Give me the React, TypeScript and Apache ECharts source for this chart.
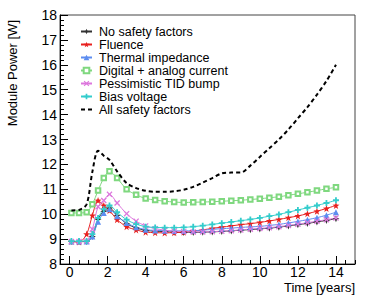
import React, { useEffect, useRef } from "react";
import * as echarts from "echarts";

const TIME = [0.1, 0.5, 0.9, 1.2, 1.5, 1.8, 2.1, 2.5, 3.0, 3.5, 4.0, 4.5, 5.0, 5.5, 6.0, 6.5, 7.0, 7.5, 8.0, 8.5, 9.0, 9.5, 10.0, 10.5, 11.0, 11.5, 12.0, 12.5, 13.0, 13.5, 14.0];

const NO_SF = [8.9, 8.9, 8.9, 9.1, 9.8, 10.12, 10.25, 9.95, 9.62, 9.45, 9.35, 9.32, 9.3, 9.28, 9.27, 9.27, 9.28, 9.29, 9.31, 9.33, 9.36, 9.38, 9.41, 9.44, 9.48, 9.53, 9.58, 9.63, 9.69, 9.75, 9.82];
const FLUENCE = [8.9, 8.88, 9.2, 9.95, 10.55, 10.35, 10.15, 9.78, 9.5, 9.37, 9.28, 9.26, 9.25, 9.26, 9.28, 9.32, 9.37, 9.43, 9.48, 9.53, 9.58, 9.62, 9.67, 9.73, 9.79, 9.86, 9.93, 10.02, 10.12, 10.23, 10.35];
const THERMAL = [8.9, 8.9, 8.9, 9.1, 9.7, 10.05, 10.2, 9.92, 9.65, 9.48, 9.38, 9.35, 9.34, 9.33, 9.33, 9.34, 9.36, 9.39, 9.42, 9.44, 9.47, 9.49, 9.51, 9.55, 9.59, 9.65, 9.71, 9.78, 9.86, 9.96, 10.08];
const DIGITAL = [10.05, 10.05, 10.08, 10.4, 10.95, 11.45, 11.72, 11.45, 11.0, 10.78, 10.63, 10.57, 10.52, 10.49, 10.47, 10.48, 10.49, 10.5, 10.52, 10.54, 10.56, 10.59, 10.62, 10.66, 10.7, 10.76, 10.82, 10.88, 10.95, 11.02, 11.08];
const TID = [8.9, 8.9, 8.92, 9.4, 10.3, 10.55, 10.8, 10.45, 10.02, 9.72, 9.53, 9.42, 9.36, 9.32, 9.3, 9.29, 9.29, 9.3, 9.32, 9.34, 9.37, 9.4, 9.43, 9.46, 9.5, 9.55, 9.6, 9.66, 9.72, 9.78, 9.85];
const BIAS = [8.92, 8.92, 8.92, 9.2, 9.85, 10.2, 10.35, 10.08, 9.78, 9.6, 9.5, 9.47, 9.46, 9.46, 9.47, 9.5, 9.54, 9.59, 9.64, 9.69, 9.74, 9.79, 9.85, 9.92, 9.99, 10.08, 10.17, 10.26, 10.35, 10.45, 10.56];
const ALL_SF = [10.15, 10.17, 10.4, 11.7, 12.55, 12.35, 12.18, 11.72, 11.25, 11.05, 10.94, 10.9, 10.9, 10.92, 10.98, 11.1, 11.27, 11.45, 11.64, 11.67, 11.67, 11.95, 12.3, 12.65, 13.0, 13.4, 13.85, 14.3, 14.8, 15.35, 16.0];

const SERIES_NAMES = ["No safety factors", "Fluence", "Thermal impedance", "Digital + analog current", "Pessimistic TID bump", "Bias voltage", "All safety factors"];
const X_TICKS = [0, 2, 4, 6, 8, 10, 12, 14];
const X_MINOR_TICKS = [-0.5, 0.5, 1, 1.5, 2.5, 3, 3.5, 4.5, 5, 5.5, 6.5, 7, 7.5, 8.5, 9, 9.5, 10.5, 11, 11.5, 12.5, 13, 13.5, 14.5, 15];

const STAR5 = "path://M0,-10 L2.35,-3.24 9.51,-3.09 3.8,1.24 5.88,8.09 0,4 -5.88,8.09 -3.8,1.24 -9.51,-3.09 -2.35,-3.24 Z";
const CROSS = "path://M-3,-10 H3 V-3 H10 V3 H3 V10 H-3 V3 H-10 V-3 H-3 Z";
const STAR4 = "path://M0,-10 L3,-3 10,0 3,3 0,10 -3,3 -10,0 -3,-3 Z";
const XMARK = "path://M-10,-7 L-7,-10 0,-3 7,-10 10,-7 3,0 10,7 7,10 0,3 -7,10 -10,7 -3,0 Z";

const FONT = "Liberation Sans, Arial, sans-serif";

function pairs(ys: number[]) {
  return TIME.map((t, i) => [t, ys[i]]);
}

export default function App() {
  const ref = useRef<HTMLDivElement>(null);
  useEffect(() => {
    if (!ref.current) return;
    const chart = echarts.init(ref.current, undefined, { renderer: "svg" });
    const mk = (name: string, data: number[], color: string, symbol: string, size: number) => ({
      name,
      type: "line",
      data: pairs(data),
      smooth: 0.3,
      symbol,
      symbolSize: size,
      showSymbol: true,
      lineStyle: { color, width: 1 },
      itemStyle: { color, borderColor: color, borderWidth: symbol.startsWith("empty") ? 1 : 0 },
      z: 2,
    });
    const series: any[] = [
      mk(SERIES_NAMES[0], NO_SF, "#333333", STAR4, 7),
      mk(SERIES_NAMES[1], FLUENCE, "#e8201e", STAR5, 7),
      mk(SERIES_NAMES[2], THERMAL, "#5d8df0", "triangle", 6),
      mk(SERIES_NAMES[3], DIGITAL, "#7fd87f", "emptyRect", 4.5),
      mk(SERIES_NAMES[4], TID, "#dd77dd", XMARK, 6),
      mk(SERIES_NAMES[5], BIAS, "#33cccc", CROSS, 6),
      {
        name: SERIES_NAMES[6],
        type: "line",
        data: pairs(ALL_SF),
        smooth: 0.3,
        symbol: "none",
        lineStyle: { color: "#000", width: 2, type: [4, 3] },
        itemStyle: { color: "#000" },
        z: 3,
      },
    ];
    const legendData: any[] = SERIES_NAMES.map((n, i) =>
      i === SERIES_NAMES.length - 1 ? { name: n, itemStyle: { opacity: 0 } } : { name: n }
    );
    chart.setOption({
      animation: false,
      grid: { left: 60, top: 15, right: 19, bottom: 32, show: true, borderColor: "#444", borderWidth: 1, backgroundColor: "transparent" },
      legend: {
        orient: "vertical",
        left: 80,
        top: 25,
        padding: 0,
        itemWidth: 11,
        itemHeight: 7,
        itemGap: 0,
        data: legendData,
        textStyle: { fontFamily: FONT, fontSize: 12.5, color: "#000", lineHeight: 12.5, padding: [0, 0, 0, 2] },
      },
      xAxis: [
        {
          type: "value",
          min: -0.5,
          max: 15,
          axisLine: { show: true, onZero: false, lineStyle: { color: "#000", width: 1 } },
          axisTick: { show: true, inside: true, length: 8, customValues: X_TICKS, lineStyle: { color: "#000" } },
          axisLabel: { show: true, customValues: X_TICKS, fontFamily: FONT, fontSize: 14, lineHeight: 14, color: "#000", margin: 1 },
          splitLine: { show: false },
        },
        {
          type: "value",
          min: -0.5,
          max: 15,
          position: "bottom",
          axisLine: { show: false },
          axisTick: { show: true, inside: true, length: 4, customValues: X_MINOR_TICKS, lineStyle: { color: "#000" } },
          axisLabel: { show: false },
          splitLine: { show: false },
        },
      ],
      yAxis: {
        type: "value",
        min: 8,
        max: 18,
        interval: 1,
        axisLine: { show: true, onZero: false, lineStyle: { color: "#000", width: 1 } },
        axisTick: { show: true, inside: true, length: 8, lineStyle: { color: "#000" } },
        minorTick: { show: true, splitNumber: 5, length: 4, lineStyle: { color: "#000" } },
        axisLabel: { fontFamily: FONT, fontSize: 14, color: "#000", margin: 3 },
        splitLine: { show: false },
        minorSplitLine: { show: false },
      },
      graphic: [
        {
          type: "text",
          x: 12,
          y: 20,
          rotation: Math.PI / 2,
          style: { text: "Module Power [W]", fontFamily: FONT, fontSize: 13, fill: "#000", align: "right", verticalAlign: "middle" },
        },
        {
          type: "text",
          x: 355,
          y: 287,
          style: { text: "Time [years]", fontFamily: FONT, fontSize: 13, lineHeight: 13, fill: "#000", align: "right", verticalAlign: "middle" },
        },
      ],
      series,
    });
    return () => chart.dispose();
  }, []);
  return <div ref={ref} style={{ position: "absolute", left: 0, top: 0, width: 374, height: 296, background: "#fff" }} />;
}
